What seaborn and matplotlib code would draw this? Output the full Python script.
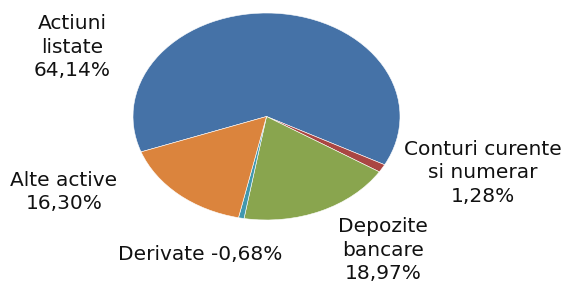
import matplotlib
matplotlib.use("Agg")
import matplotlib.pyplot as plt
import seaborn as sns

# Portfolio structure (values as printed on the chart)
categories = ["Actiuni listate", "Conturi curente si numerar", "Depozite bancare",
              "Derivate", "Alte active"]
shares = [64.14, 1.28, 18.97, -0.68, 16.30]
label_texts = ["Actiuni\nlistate\n64,14%", "Conturi curente\nsi numerar\n1,28%",
               "Depozite\nbancare\n18,97%", "Derivate -0,68%", "Alte active\n16,30%"]
colors = ["#4572A7", "#AA4643", "#89A54E", "#4198AF", "#DB843D"]

# label anchor points in pixels (x, y from top)
label_pos = [(72, 47), (483, 173), (383, 250), (200, 254), (64, 192)]

sns.set_theme(style="white")
plt.rcParams["font.family"] = ["DejaVu Sans"]

W, H = 567, 285
fig = plt.figure(figsize=(W / 100, H / 100), dpi=100)

# ellipse bounds of the flattened pie, in pixels
left, right, top, bottom = 133, 400, 13, 220
ax = fig.add_axes([left / W, 1 - bottom / H, (right - left) / W, (bottom - top) / H])

# Excel pie uses absolute values for negative entries
ax.pie([abs(v) for v in shares], colors=colors, startangle=200, counterclock=False,
       wedgeprops=dict(linewidth=0.4, edgecolor="white"))
ax.set_aspect("auto")
ax.set_xlim(-1, 1)
ax.set_ylim(-1, 1)
ax.axis("off")

for txt, (px, py) in zip(label_texts, label_pos):
    fig.text(px / W, 1 - py / H, txt, ha="center", va="center", multialignment="center",
             fontsize=14.5, color="#111111", linespacing=1.3)

fig.savefig("out.png", dpi=100)
